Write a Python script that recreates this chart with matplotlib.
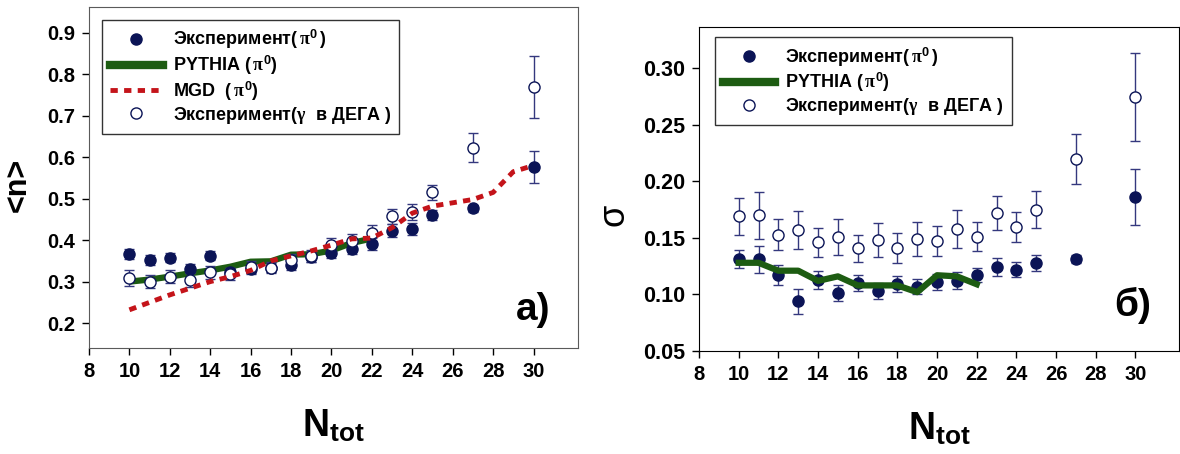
import numpy as np
import matplotlib
matplotlib.use("Agg")
import matplotlib.pyplot as plt
from matplotlib.lines import Line2D

plt.rcParams['font.family'] = ['Liberation Sans', 'DejaVu Sans']
plt.rcParams['font.weight'] = 'bold'
plt.rcParams['mathtext.fontset'] = 'custom'
plt.rcParams['mathtext.rm'] = 'Liberation Sans:bold'
plt.rcParams['mathtext.bf'] = 'Liberation Sans:bold'
plt.rcParams['mathtext.sf'] = 'Liberation Sans:bold'
plt.rcParams['mathtext.it'] = 'Liberation Serif'

# ---- panel a): mean multiplicity <n> ----
n_pi = [10, 11, 12, 13, 14, 15, 16, 17, 18, 19, 20, 21, 22, 23, 24, 25, 27, 30]
mean_pi = [0.367, 0.352, 0.358, 0.331, 0.362, 0.322, 0.330, 0.334, 0.340, 0.360,
           0.369, 0.379, 0.391, 0.423, 0.427, 0.461, 0.477, 0.577]
mean_pi_err = [0.012, 0.011, 0.011, 0.011, 0.011, 0.011, 0.011, 0.011, 0.012, 0.012,
               0.012, 0.012, 0.015, 0.015, 0.015, 0.012, 0.008, 0.039]
mean_gam = [0.308, 0.300, 0.312, 0.304, 0.322, 0.319, 0.335, 0.334, 0.351, 0.362,
            0.389, 0.397, 0.417, 0.457, 0.467, 0.515, 0.623, 0.769]
mean_gam_err = [0.019, 0.016, 0.016, 0.016, 0.015, 0.015, 0.014, 0.014, 0.015, 0.015,
                0.016, 0.017, 0.020, 0.017, 0.019, 0.019, 0.035, 0.075]

n_pythia = [10, 11, 12, 13, 14, 15, 16, 17, 18, 19, 20, 21, 22]
mean_pythia = [0.300, 0.305, 0.312, 0.320, 0.327, 0.336, 0.348, 0.349, 0.365, 0.366,
               0.375, 0.393, 0.404]

n_mgd = [10, 11, 12, 13, 14, 15, 16, 17, 18, 19, 20, 21, 22, 23, 24, 25, 26, 27, 28, 29, 30]
mean_mgd = [0.232, 0.250, 0.268, 0.284, 0.300, 0.312, 0.327, 0.350, 0.362, 0.374,
            0.388, 0.403, 0.405, 0.430, 0.465, 0.482, 0.490, 0.498, 0.515, 0.565, 0.580]

# ---- panel б): dispersion sigma ----
sig_pi = [0.131, 0.131, 0.117, 0.094, 0.113, 0.101, 0.110, 0.103, 0.109, 0.107,
          0.111, 0.112, 0.117, 0.124, 0.122, 0.128, 0.131, 0.186]
sig_pi_err = [0.008, 0.012, 0.009, 0.011, 0.008, 0.007, 0.007, 0.007, 0.007, 0.007,
              0.0075, 0.0075, 0.006, 0.008, 0.007, 0.007, 0.0035, 0.025]
sig_gam = [0.169, 0.170, 0.153, 0.157, 0.146, 0.151, 0.141, 0.148, 0.141, 0.149,
           0.147, 0.158, 0.151, 0.172, 0.160, 0.175, 0.220, 0.275]
sig_gam_err = [0.0166, 0.0206, 0.0134, 0.017, 0.0127, 0.0157, 0.012, 0.0153, 0.013, 0.0147,
               0.0132, 0.0166, 0.0128, 0.0152, 0.0132, 0.0163, 0.0222, 0.0389]
sig_pythia = [0.128, 0.128, 0.121, 0.121, 0.112, 0.116, 0.108, 0.108, 0.108, 0.102,
              0.117, 0.116, 0.109]

xticks = list(range(8, 31, 2))

navy = '#0b1456'
ebar = '#34387e'
green = '#1d5c12'
red = '#c4141a'
mgd_dash = (0, (1.5, 1.3))

lbl_exp = 'Эксперимент$(\\,\\pi^0\\,)$'
lbl_pythia = 'PYTHIA $(\\,\\pi^0)$'
lbl_mgd = 'MGD  $(\\,\\pi^0)$'
lbl_gam = 'Эксперимент$(\\gamma$  в ДЕГА $)$'

fig = plt.figure(figsize=(11.8, 4.54), dpi=100)
ax1 = fig.add_axes([0.0754, 0.2335, 0.4144, 0.7511])
ax2 = fig.add_axes([0.5924, 0.2269, 0.4068, 0.7136])


def draw_points(ax, y, yerr, filled):
    ax.errorbar(n_pi, y, yerr=yerr, fmt='none', ecolor=ebar, elinewidth=1.0,
                capsize=3.6, capthick=1.0, zorder=3)
    if filled:
        ax.plot(n_pi, y, 'o', ms=8, color=navy, mec=navy, zorder=4)
    else:
        ax.plot(n_pi, y, 'o', ms=8, mfc='white', mec=navy, mew=1.0, zorder=4)


legend_kw = dict(loc='upper left', fontsize=13, frameon=True, fancybox=False,
                 edgecolor='#333333', framealpha=1, handlelength=2.9,
                 handletextpad=0.55, labelspacing=0.12, borderpad=0.45,
                 borderaxespad=0)

# panel a)
ax1.plot(n_pythia, mean_pythia, color=green, lw=4.5, zorder=2, solid_capstyle='butt')
draw_points(ax1, mean_pi, mean_pi_err, True)
draw_points(ax1, mean_gam, mean_gam_err, False)
ax1.plot(n_mgd, mean_mgd, color=red, lw=3.5, ls=mgd_dash, zorder=5)
ax1.set_xlim(8, 32.2)
ax1.set_ylim(0.14, 0.962)
ax1.set_yticks([0.2, 0.3, 0.4, 0.5, 0.6, 0.7, 0.8, 0.9])
ax1.set_yticklabels(['0.2', '0.3', '0.4', '0.5', '0.6', '0.7', '0.8', '0.9'])
for s in ax1.spines.values():
    s.set_color('#5a5a5a')
ax1.set_ylabel('<n>', fontsize=22, fontweight='bold')
ax1.yaxis.set_label_coords(-0.115, 0.478)
ax1.text(0.908, 0.111, 'a)', transform=ax1.transAxes, fontsize=28,
         fontweight='bold', ha='center', va='center')

h1 = [Line2D([], [], ls='none', marker='o', ms=8, color=navy),
      Line2D([], [], color=green, lw=6),
      Line2D([], [], color=red, lw=3.5, ls=mgd_dash),
      Line2D([], [], ls='none', marker='o', ms=8, mfc='white', mec=navy)]
leg1 = ax1.legend(h1, [lbl_exp, lbl_pythia, lbl_mgd, lbl_gam],
                  bbox_to_anchor=(0.027, 0.962), **legend_kw)
leg1.get_frame().set_linewidth(1.0)

# panel б)
ax2.plot(n_pythia, sig_pythia, color=green, lw=4.5, zorder=5)
draw_points(ax2, sig_pi, sig_pi_err, True)
draw_points(ax2, sig_gam, sig_gam_err, False)
ax2.set_xlim(8, 32.2)
ax2.set_ylim(0.05, 0.3365)
ax2.set_yticks([0.05, 0.10, 0.15, 0.20, 0.25, 0.30])
ax2.set_yticklabels(['0.05', '0.10', '0.15', '0.20', '0.25', '0.30'])
for s in ax2.spines.values():
    s.set_color('black')
ax2.set_ylabel('σ', fontsize=26, fontweight='normal')
ax2.yaxis.set_label_coords(-0.14, 0.42)
ax2.text(0.904, 0.142, 'б)', transform=ax2.transAxes, fontsize=28,
         fontweight='bold', ha='center', va='center')

h2 = [h1[0], h1[1], h1[3]]
leg2 = ax2.legend(h2, [lbl_exp, lbl_pythia, lbl_gam],
                  bbox_to_anchor=(0.033, 0.969), **legend_kw)
leg2.get_frame().set_linewidth(1.0)

for ax in (ax1, ax2):
    ax.set_xticks(xticks)
    ax.set_xticklabels([str(t) for t in xticks])
    ax.tick_params(axis='both', direction='out', length=5, width=1.0,
                   labelsize=14.5, pad=5, top=False, right=False)
    for lab in ax.get_xticklabels() + ax.get_yticklabels():
        lab.set_fontweight('bold')
    ax.set_xlabel('$\\mathrm{N}_{\\mathrm{tot}}$', fontsize=27, labelpad=20)

ax2.tick_params(axis='y', labelsize=15.5)

fig.savefig('out.png', dpi=100)
